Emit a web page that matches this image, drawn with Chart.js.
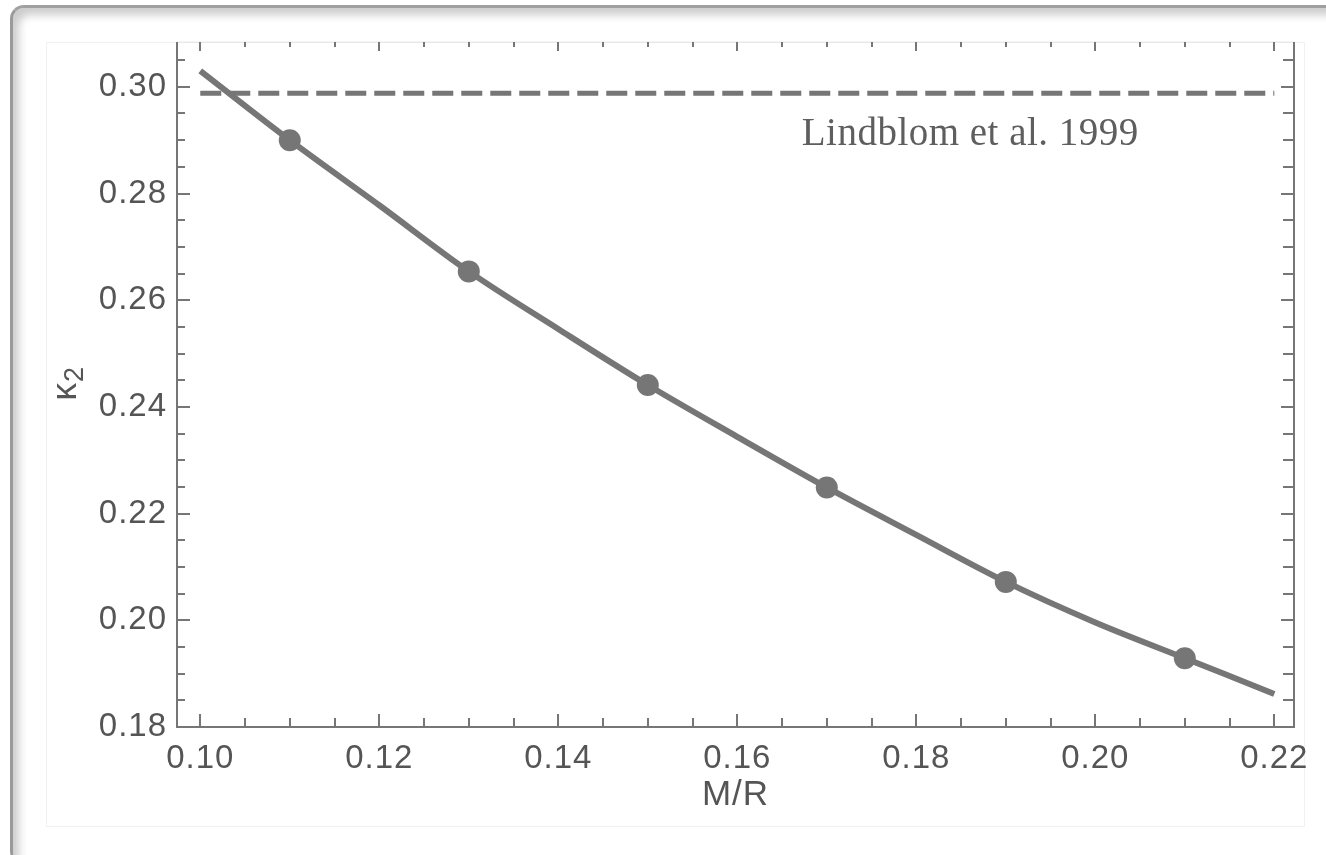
<!DOCTYPE html>
<html>
<head>
<meta charset="utf-8">
<script src="https://cdn.jsdelivr.net/npm/chart.js@4.4.1/dist/chart.umd.min.js"></script>
<style>
  html, body { margin: 0; padding: 0; background: #fff; width: 1326px; height: 855px; overflow: hidden; }
  #frame {
    position: absolute; left: 10px; top: 5px; width: 1400px; height: 860px;
    border-radius: 14px; box-sizing: border-box;
    border-left: 3px solid #9a9a9a; border-top: 3px solid #a0a0a0;
    box-shadow: inset 6px 7px 9px rgba(0,0,0,0.2);
    background: #fff;
  }
  #sheet { position: absolute; left: 46px; top: 42px; width: 1259px; height: 785px; border: 1px solid #f1f1f1; box-sizing: border-box; }
  #wrap { position: absolute; left: 0; top: 0; width: 1326px; height: 855px; }
</style>
</head>
<body>
<div id="frame"></div>
<div id="sheet"></div>
<div id="wrap"><canvas id="c" width="1326" height="855"></canvas></div>
<script>
// Fitted k2 relation versus compactness M/R
const curveMR = [0.10, 0.11, 0.12, 0.13, 0.14, 0.15, 0.16, 0.17, 0.18, 0.19, 0.20, 0.21, 0.22];
const curveK2 = [0.3030, 0.2900, 0.2778, 0.2654, 0.2546, 0.2441, 0.2344, 0.2249, 0.2160, 0.2072, 0.1996, 0.1929, 0.1862];

// Computed models
const modelMR = [0.11, 0.13, 0.15, 0.17, 0.19, 0.21];
const modelK2 = [0.2900, 0.2654, 0.2441, 0.2249, 0.2072, 0.1929];

// Reference value (Lindblom et al. 1999)
const refMR = [0.10, 0.22];
const refK2 = [0.2988, 0.2988];
const refLabel = 'Lindblom et al. 1999';
const refLabelAt = [0.1672, 0.2891];

// Labelled axis ticks
const xTickLabels = [0.10, 0.12, 0.14, 0.16, 0.18, 0.20, 0.22];
const yTickLabels = [0.18, 0.20, 0.22, 0.24, 0.26, 0.28, 0.30];

// Axis titles
const xTitle = 'M/R';
const yTitleSymbol = 'κ';
const yTitleIndex = '2';

const toPts = (xs, ys) => xs.map((x, i) => ({ x: x, y: ys[i] }));
const isLabelled = (v, list) => list.some(t => Math.abs(t - v) < 1e-6);

const ink = '#767676';
const textInk = '#555555';
const sans = '"Liberation Sans", Arial, sans-serif';

// Inward ticks on all four sides, frame lines, y title and annotation
const frameTicks = {
  id: 'frameTicks',
  afterDatasetsDraw(chart) {
    const { ctx, chartArea: a, scales: { x, y } } = chart;
    ctx.save();
    ctx.strokeStyle = ink;
    ctx.lineWidth = 2;
    ctx.beginPath();
    ctx.moveTo(a.left, a.top); ctx.lineTo(a.left, a.bottom);
    ctx.lineTo(a.right, a.bottom); ctx.lineTo(a.right, a.top);
    ctx.stroke();
    ctx.strokeStyle = 'rgba(120,120,120,0.15)';
    ctx.lineWidth = 1;
    ctx.beginPath(); ctx.moveTo(a.left, a.top); ctx.lineTo(a.right, a.top); ctx.stroke();
    ctx.strokeStyle = ink;
    ctx.lineWidth = 2;
    ctx.beginPath();
    x.ticks.forEach(t => {
      const px = Math.round(x.getPixelForValue(t.value));
      const major = isLabelled(t.value, xTickLabels);
      ctx.moveTo(px, a.bottom); ctx.lineTo(px, a.bottom - (major ? 13 : 9));
      ctx.moveTo(px, a.top); ctx.lineTo(px, a.top + (major ? 9 : 5));
    });
    y.ticks.forEach(t => {
      const py = Math.round(y.getPixelForValue(t.value));
      const major = isLabelled(t.value, yTickLabels);
      ctx.moveTo(a.left, py); ctx.lineTo(a.left + (major ? 13 : 8), py);
      ctx.moveTo(a.right, py); ctx.lineTo(a.right - (major ? 13 : 11), py);
    });
    ctx.stroke();

    // y title: kappa with subscript 2, reading upward
    ctx.save();
    ctx.fillStyle = textInk;
    ctx.letterSpacing = '0px';
    ctx.textAlign = 'left';
    ctx.textBaseline = 'alphabetic';
    ctx.translate(76, (a.top + a.bottom) / 2 + 16);
    ctx.rotate(-Math.PI / 2);
    ctx.font = '35px ' + sans;
    ctx.fillText(yTitleSymbol, 0, 0);
    const w = ctx.measureText(yTitleSymbol).width;
    ctx.font = '27px ' + sans;
    ctx.fillText(yTitleIndex, w + 1, 7);
    ctx.restore();

    // reference annotation
    ctx.font = '39px "Liberation Serif", serif';
    ctx.fillStyle = '#5e5e5e';
    ctx.letterSpacing = '0.5px';
    ctx.textAlign = 'left';
    ctx.textBaseline = 'alphabetic';
    ctx.fillText(refLabel, x.getPixelForValue(refLabelAt[0]), y.getPixelForValue(refLabelAt[1]));
    ctx.restore();
  }
};

const spacing = {
  id: 'spacing',
  beforeDraw(chart) { chart.ctx.letterSpacing = '1px'; }
};

new Chart(document.getElementById('c'), {
  type: 'scatter',
  data: {
    datasets: [
      {
        data: toPts(refMR, refK2), showLine: true,
        borderColor: ink, borderWidth: 5, borderDash: [21, 8],
        pointRadius: 0, fill: false
      },
      {
        data: toPts(curveMR, curveK2), showLine: true,
        borderColor: ink, borderWidth: 6, tension: 0.4, cubicInterpolationMode: 'monotone',
        pointRadius: 0, fill: false
      },
      {
        data: toPts(modelMR, modelK2), showLine: false,
        pointRadius: 11, pointBackgroundColor: ink, pointBorderWidth: 0
      }
    ]
  },
  options: {
    responsive: false,
    animation: false,
    events: [],
    layout: { padding: { left: 0, top: 42, right: 32, bottom: 0 } },
    plugins: { legend: { display: false }, tooltip: { enabled: false } },
    scales: {
      x: {
        type: 'linear', min: 0.0974, max: 0.2222,
        afterFit(s) { s.height = 128; },
        grid: { display: false, drawTicks: false },
        border: { display: false },
        ticks: {
          stepSize: 0.005, includeBounds: false, autoSkip: false, maxRotation: 0,
          padding: 12, color: textInk,
          font: { family: sans, size: 33 },
          callback: v => isLabelled(v, xTickLabels) ? v.toFixed(2) : ''
        },
        title: {
          display: true, text: xTitle, color: textInk,
          font: { family: sans, size: 35 },
          padding: { top: 0, bottom: 39 }
        }
      },
      y: {
        type: 'linear', min: 0.18, max: 0.3084,
        afterFit(s) { s.width = 177; },
        grid: { display: false, drawTicks: false },
        border: { display: false },
        ticks: {
          stepSize: 0.005, includeBounds: false, autoSkip: false,
          padding: 10, color: textInk,
          font: { family: sans, size: 33 },
          callback: v => isLabelled(v, yTickLabels) ? v.toFixed(2) : ''
        },
        title: { display: false }
      }
    }
  },
  plugins: [spacing, frameTicks]
});
</script>
</body>
</html>
